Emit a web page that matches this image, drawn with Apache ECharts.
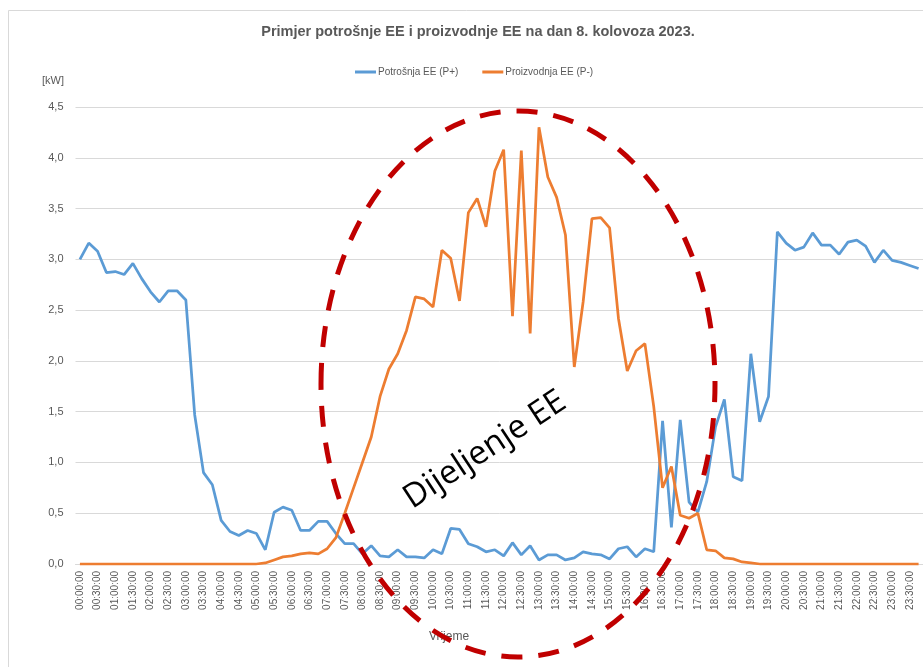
<!DOCTYPE html>
<html>
<head>
<meta charset="utf-8">
<script src="https://cdn.jsdelivr.net/npm/echarts@6/dist/echarts.min.js"></script>
<style>html,body{margin:0;padding:0;background:#fff;}#c{width:923px;height:667px;}</style>
</head>
<body>
<div id="c"></div>
<script>
const categories = [
"00:00:00","00:15:00","00:30:00","00:45:00","01:00:00","01:15:00","01:30:00","01:45:00",
"02:00:00","02:15:00","02:30:00","02:45:00","03:00:00","03:15:00","03:30:00","03:45:00",
"04:00:00","04:15:00","04:30:00","04:45:00","05:00:00","05:15:00","05:30:00","05:45:00",
"06:00:00","06:15:00","06:30:00","06:45:00","07:00:00","07:15:00","07:30:00","07:45:00",
"08:00:00","08:15:00","08:30:00","08:45:00","09:00:00","09:15:00","09:30:00","09:45:00",
"10:00:00","10:15:00","10:30:00","10:45:00","11:00:00","11:15:00","11:30:00","11:45:00",
"12:00:00","12:15:00","12:30:00","12:45:00","13:00:00","13:15:00","13:30:00","13:45:00",
"14:00:00","14:15:00","14:30:00","14:45:00","15:00:00","15:15:00","15:30:00","15:45:00",
"16:00:00","16:15:00","16:30:00","16:45:00","17:00:00","17:15:00","17:30:00","17:45:00",
"18:00:00","18:15:00","18:30:00","18:45:00","19:00:00","19:15:00","19:30:00","19:45:00",
"20:00:00","20:15:00","20:30:00","20:45:00","21:00:00","21:15:00","21:30:00","21:45:00",
"22:00:00","22:15:00","22:30:00","22:45:00","23:00:00","23:15:00","23:30:00","23:45:00"
];
const potrosnja = [
3.00,3.16,3.08,2.87,2.88,2.85,2.96,2.81,2.68,2.58,2.69,2.69,2.60,1.47,0.90,0.78,
0.43,0.32,0.28,0.33,0.30,0.14,0.51,0.56,0.53,0.33,0.33,0.42,0.42,0.30,0.20,0.20,
0.10,0.18,0.08,0.07,0.14,0.07,0.07,0.06,0.14,0.10,0.35,0.34,0.20,0.17,0.12,0.14,
0.08,0.21,0.09,0.18,0.04,0.09,0.09,0.04,0.06,0.12,0.10,0.09,0.05,0.15,0.17,0.07,
0.15,0.12,1.41,0.36,1.42,0.61,0.51,0.81,1.35,1.62,0.86,0.82,2.07,1.40,1.65,3.27,
3.16,3.09,3.12,3.26,3.14,3.14,3.05,3.17,3.19,3.13,2.97,3.09,2.99,2.97,2.94,2.91
];
const proizvodnja = [
0,0,0,0,0,0,0,0,0,0,0,0,0,0,0,0,
0,0,0,0,0,0.01,0.04,0.07,0.08,0.10,0.11,0.10,0.15,0.26,0.50,0.75,
1.00,1.25,1.65,1.92,2.07,2.30,2.63,2.61,2.53,3.09,3.01,2.59,3.46,3.60,3.32,3.87,
4.08,2.44,4.07,2.27,4.30,3.81,3.61,3.24,1.94,2.58,3.40,3.41,3.31,2.42,1.90,2.10,
2.17,1.55,0.75,0.96,0.48,0.45,0.50,0.14,0.13,0.06,0.05,0.02,0.01,0,0,0,
0,0,0,0,0,0,0,0,0,0,0,0,0,0,0,0
];
const yTicks = {min: 0, max: 4.5, interval: 0.5};
const titleText = "Primjer potrošnje EE i proizvodnje EE na dan 8. kolovoza 2023.";
const seriesNames = ["Potrošnja EE (P+)", "Proizvodnja EE (P-)"];

const chart = echarts.init(document.getElementById('c'), null, {renderer: 'canvas'});
const gray = '#595959';
chart.setOption({
  animation: false,
  backgroundColor: '#fff',
  title: {
    text: titleText,
    left: 473, top: 19, textAlign: 'center',
    textStyle: {fontFamily: 'Liberation Sans', fontSize: 14.5, fontWeight: 'bold', color: gray}
  },
  legend: {
    left: 350, top: 62,
    icon: 'rect', itemWidth: 21, itemHeight: 3, itemGap: 24,
    textStyle: {fontFamily: 'Liberation Sans', fontSize: 10, color: gray, padding: [0,0,0,-3]},
    data: seriesNames
  },
  grid: {left: 75.5, top: 107, width: 849, bottom: 103},
  xAxis: {
    type: 'category',
    data: categories,
    boundaryGap: true,
    axisLine: {lineStyle: {color: '#D9D9D9', width: 1}},
    axisTick: {show: false},
    axisLabel: {
      interval: 1, rotate: 90, margin: 7,
      fontFamily: 'Liberation Sans', fontSize: 10, color: gray
    },
    splitLine: {show: false}
  },
  yAxis: {
    type: 'value',
    min: yTicks.min, max: yTicks.max, interval: yTicks.interval,
    axisLine: {show: false}, axisTick: {show: false},
    axisLabel: {
      margin: 12, fontFamily: 'Liberation Sans', fontSize: 11, color: gray,
      formatter: v => v.toFixed(1).replace('.', ',')
    },
    splitLine: {lineStyle: {color: '#D9D9D9', width: 1}}
  },
  series: [
    {name: seriesNames[0], type: 'line', data: potrosnja, symbol: 'none',
     itemStyle: {color: '#5B9BD5'}, lineStyle: {color: '#5B9BD5', width: 2.75}},
    {name: seriesNames[1], type: 'line', data: proizvodnja, symbol: 'none',
     itemStyle: {color: '#ED7D31'}, lineStyle: {color: '#ED7D31', width: 2.75}}
  ],
  graphic: [
    {type: 'rect', silent: true, z: -1,
     shape: {x: 8.5, y: 10.5, width: 940, height: 700},
     style: {fill: 'none', stroke: '#D9D9D9', lineWidth: 1}},
    {type: 'text', left: 42, top: 75,
     style: {text: '[kW]', font: '11px "Liberation Sans"', fill: gray}},
    {type: 'text', x: 449, y: 637,
     style: {text: 'Vrijeme', font: '12px "Liberation Sans"', fill: gray, align: 'center', verticalAlign: 'middle'}},
    {type: 'ellipse', silent: true, z: 100,
     shape: {cx: 518, cy: 384, rx: 197, ry: 273},
     style: {fill: 'none', stroke: '#C00000', lineWidth: 5, lineDash: [21, 16]}},
    {type: 'text', z: 100, x: 485, y: 450, rotation: 33.4 * Math.PI / 180,
     style: {text: 'Dijeljenje EE', font: '33px "Open Sans"', fill: '#000', align: 'center', verticalAlign: 'middle'}}
  ]
});
</script>
</body>
</html>
